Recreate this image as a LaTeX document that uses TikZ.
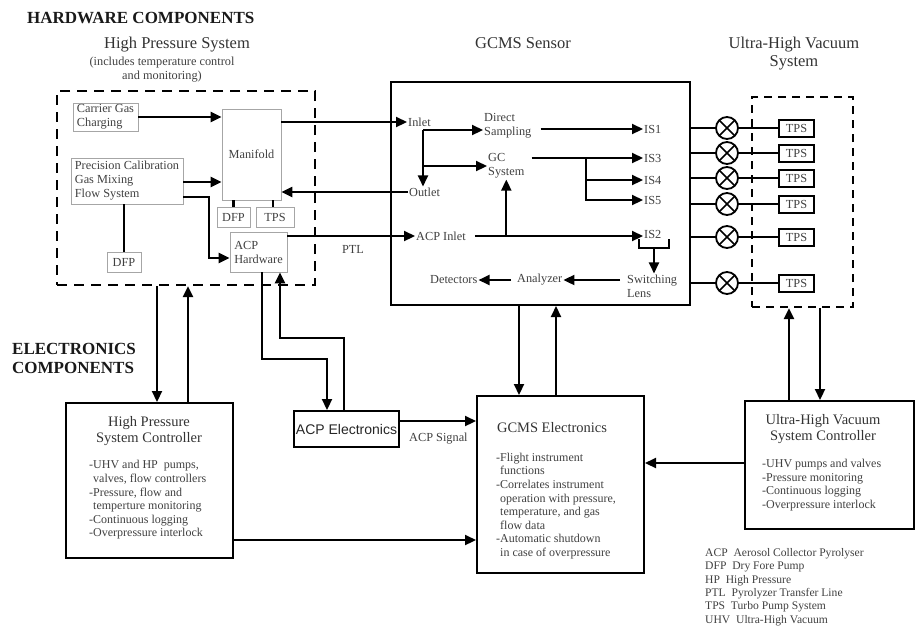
\documentclass[tikz,border=0pt]{standalone}
\usepackage{fontspec}
\setmainfont{Liberation Serif}
\newfontfamily\arialfont{Liberation Sans}
\usetikzlibrary{arrows.meta}

\newcommand{\txtsmall}{\fontsize{12.3}{14}\selectfont}
\newcommand{\txtbody}{\fontsize{12}{13.6}\selectfont}
\newcommand{\txttitle}{\fontsize{14.5}{16}\selectfont}
\newcommand{\txthead}{\fontsize{16.5}{18}\selectfont}
\newcommand{\txtbig}{\bfseries\fontsize{17}{19}\selectfont}

\begin{document}
\begin{tikzpicture}[x=1pt, y=-1pt, >={Triangle[length=11pt,width=10pt]},
	every node/.style={text=black!75},
	hwbox/.style={draw=black!35, line width=0.8pt, inner sep=0pt, align=left, font=\txtsmall},
	mainbox/.style={draw=black, line width=2pt, inner sep=0pt},
	grpbox/.style={draw=black, line width=2.2pt, dash pattern=on 10pt off 7pt, inner sep=0pt},
	lbl/.style={font=\txtsmall, inner sep=1pt, align=left},
	conn/.style={line width=2.2pt},
	valve/.style={circle, draw, line width=1.8pt, minimum size=22pt, inner sep=0pt,
		path picture={\draw[line width=1.6pt] (path picture bounding box.north west) -- (path picture bounding box.south east)
			(path picture bounding box.south west) -- (path picture bounding box.north east);}},
	tpsbox/.style={draw=black, line width=2pt, minimum width=35pt, minimum height=17pt, inner sep=0pt, font=\txtsmall}]
	\useasboundingbox (0,0) rectangle (916,630);

	% headings
	\node[font=\txtbig, text=black!90, anchor=west, inner sep=0pt] (hwhead) at (27,18) {HARDWARE COMPONENTS};
	\node[font=\txtbig, text=black!90, anchor=west, align=left, inner sep=0pt] (elhead) at (12,358) {ELECTRONICS\\COMPONENTS};
	\node[font=\txthead, text=black!80] (hptitle) at (177,45) {High Pressure System};
	\node[font=\txtsmall, align=center] (hpnote) at (162,70) {(includes temperature control\\and monitoring)};
	\node[font=\txthead, text=black!80] (sentitle) at (523,43) {GCMS Sensor};
	\node[font=\txthead, text=black!80, align=center] (uhvtitle) at (794,54) {Ultra-High Vacuum\\System};

	% high pressure system
	\node[grpbox, minimum width=258pt, minimum height=194pt] (hpsys) at (186,188) {};
	\node[hwbox, minimum width=65pt, minimum height=28pt] (carrier) at (105.5,117) {Carrier Gas\\Charging};
	\node[hwbox, minimum width=59pt, minimum height=91pt, align=center] (manifold) at (251.5,154.5) {Manifold};
	\node[hwbox, minimum width=112pt, minimum height=46pt] (precision) at (127,181) {Precision Calibration\\Gas Mixing\\Flow System};
	\node[hwbox, minimum width=33pt, minimum height=20pt] (dfpa) at (233.5,217) {DFP};
	\node[hwbox, minimum width=38pt, minimum height=20pt] (tpsa) at (275,217) {TPS};
	\node[hwbox, minimum width=57pt, minimum height=40pt] (acphw) at (258.5,252) {ACP\\Hardware};
	\node[hwbox, minimum width=34pt, minimum height=20pt] (dfpb) at (124,262) {DFP};
	\draw[conn,->] (carrier.east) -- (manifold.west |- carrier.east);
	\draw[conn,->] (precision.east |- 0,182) -- (manifold.west |- 0,182);
	\draw[conn,->] (precision.east |- 0,197) -| (209,258) -- (acphw.west |- 0,258);
	\draw[conn] (precision.south -| dfpb.north) -- (dfpb.north);
	\draw[conn] (manifold.south -| dfpa.north) -- (dfpa.north);
	\draw[conn] (manifold.south -| 273,0) -- (tpsa.north -| 273,0);

	% GCMS sensor
	\node[mainbox, minimum width=299pt, minimum height=223pt] (sensor) at (540.5,193.5) {};
	\node[lbl, anchor=west] (inlet) at (407,122) {Inlet};
	\node[lbl, anchor=west] (outlet) at (408,192) {Outlet};
	\node[lbl, anchor=west] (acpin) at (415,236) {ACP Inlet};
	\node[lbl, anchor=west] (direct) at (483,126) {Direct\\Sampling};
	\node[lbl, anchor=west] (gcsys) at (487,166) {GC\\System};
	\node[lbl, anchor=west] (is1) at (643,129) {IS1};
	\node[lbl, anchor=west] (is3) at (643,158) {IS3};
	\node[lbl, anchor=west] (is4) at (643,180) {IS4};
	\node[lbl, anchor=west] (is5) at (643,200) {IS5};
	\node[lbl, anchor=west] (is2) at (643,234) {IS2};
	\node[lbl, anchor=west] (swlens) at (626,286) {Switching\\Lens};
	\node[lbl, anchor=west] (analyzer) at (516,280) {Analyzer};
	\node[lbl, anchor=west] (detectors) at (429,280) {Detectors};
	\node[lbl] (ptl) at (353,249) {PTL};
	\coordinate (split) at (423,130);
	\coordinate (isfork) at (586,158);
	\coordinate (brk) at (654,248);
	\draw[conn,->] (manifold.east |- inlet.west) -- (inlet.west);
	\draw[conn,->] (outlet.west) -- (manifold.east |- outlet.west);
	\draw[conn,->] (acphw.east |- acpin.west) -- (acpin.west);
	\draw[conn,->] (split) -- (split |- outlet.north);
	\draw[conn,->] (split) -- (split -| direct.west);
	\draw[conn,->] (split |- gcsys.west) -- (gcsys.west);
	\draw[conn,->] ([xshift=8pt]direct.east |- is1.west) -- (is1.west);
	\draw[conn,->] ([xshift=6pt]gcsys.east |- is3.west) -- (is3.west);
	\draw[conn,->] (isfork) |- (is4.west);
	\draw[conn,->] (isfork) |- (is5.west);
	\draw[conn,->] ([xshift=8pt]acpin.east) -- (is2.west |- acpin.east);
	\draw[conn,->] (gcsys.south |- acpin.east) -- (gcsys.south);
	\draw[conn] (639,239) -- (639,248) -- (669,248) -- (669,239);
	\draw[conn,->] (brk) -- (swlens.north -| brk);
	\draw[conn,->] ([xshift=-6pt]swlens.west |- analyzer.east) -- (analyzer.east);
	\draw[conn,->] ([xshift=-5pt]analyzer.west) -- (detectors.east);

	% ultra-high vacuum system
	\node[grpbox, dash pattern=on 8pt off 6pt, minimum width=101pt, minimum height=210pt] (uhvsys) at (802.5,202) {};
	\foreach \yy [count=\i] in {128,153,178,204,237,283}{
		\node[valve] (v\i) at (727,\yy) {};
		\node[tpsbox] (t\i) at (796.5,\yy) {TPS};
		\draw[line width=1.8pt] (sensor.east |- v\i) -- (v\i);
		\draw[line width=1.5pt] (v\i) -- (t\i);
	}

	% electronics
	\node[mainbox, minimum width=167pt, minimum height=155pt] (hpc) at (149.5,480.5) {};
	\node[font=\txttitle, text=black!80, align=center] (hpctitle) at (149,431) {High Pressure\\System Controller};
	\node[lbl, font=\txtbody, anchor=west] (hpcbody) at (88,500) {-UHV and HP\ \ pumps,\\\hphantom{-}valves, flow controllers\\-Pressure, flow and\\\hphantom{-}temperture monitoring\\-Continuous logging\\-Overpressure interlock};

	\node[mainbox, minimum width=105pt, minimum height=36pt, font=\arialfont\fontsize{14}{16}\selectfont, text=black!85] (acpe) at (346.5,429) {ACP Electronics};
	\node[lbl, anchor=west] (acpsig) at (408,439) {ACP Signal};

	\node[mainbox, minimum width=167pt, minimum height=177pt] (gcmse) at (560.5,484.5) {};
	\node[font=\txttitle, text=black!80] (gcmsetitle) at (552,428) {GCMS Electronics};
	\node[lbl, font=\txtbody, anchor=west] (gcmsebody) at (495,506) {-Flight instrument\\\hphantom{-}functions\\-Correlates instrument\\\hphantom{-}operation with pressure,\\\hphantom{-}temperature, and gas\\\hphantom{-}flow data\\-Automatic shutdown\\\hphantom{-}in case of overpressure};

	\node[mainbox, minimum width=169pt, minimum height=128pt] (uhvc) at (829.5,465) {};
	\node[font=\txttitle, text=black!80, align=center] (uhvctitle) at (823,429) {Ultra-High Vacuum\\System Controller};
	\node[lbl, font=\txtbody, anchor=west] (uhvcbody) at (761,485) {-UHV pumps and valves\\-Pressure monitoring\\-Continuous logging\\-Overpressure interlock};

	\draw[conn,->] (hpsys.south -| 157,0) -- (hpc.north -| 157,0);
	\draw[conn,->] (hpc.north -| 188,0) -- (hpsys.south -| 188,0);
	\draw[conn,->] (acphw.south -| 262,0) -- (262,359) -| (acpe.north -| 327,0);
	\draw[conn,->] (acpe.north -| 344,0) -- (344,338) -| (acphw.south -| 280,0);
	\draw[conn,->] (acpe.east |- 0,421) -- (gcmse.west |- 0,421);
	\draw[conn,->] (hpc.east |- 0,540) -- (gcmse.west |- 0,540);
	\draw[conn,->] (sensor.south -| 519,0) -- (gcmse.north -| 519,0);
	\draw[conn,->] (gcmse.north -| 556,0) -- (sensor.south -| 556,0);
	\draw[conn,->] (uhvc.west |- 0,463) -- (gcmse.east |- 0,463);
	\draw[conn,->] (uhvc.north -| 789,0) -- (uhvsys.south -| 789,0);
	\draw[conn,->] (uhvsys.south -| 820,0) -- (uhvc.north -| 820,0);

	% legend
	\node[font=\fontsize{11.6}{13.4}\selectfont, align=left, anchor=north west, inner sep=0pt] (legend) at (705,548)
		{ACP\ \ Aerosol Collector Pyrolyser\\DFP\ \ Dry Fore Pump\\HP\ \ High Pressure\\PTL\ \ Pyrolyzer Transfer Line\\TPS\ \ Turbo Pump System\\UHV\ \ Ultra-High Vacuum};
\end{tikzpicture}
\end{document}
